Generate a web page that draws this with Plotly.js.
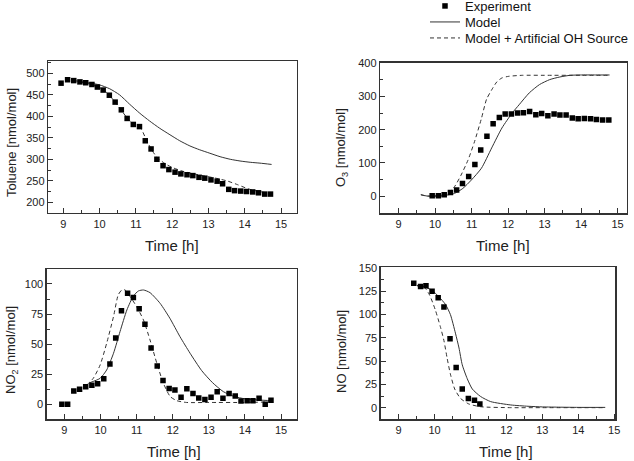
<!DOCTYPE html>
<html>
<head>
<meta charset="utf-8">
<script src="https://cdn.plot.ly/plotly-3.0.1.min.js"></script>
<style>html,body{margin:0;padding:0;background:#fff}#chart{width:634px;height:461px}</style>
</head>
<body>
<div id="chart"></div>
<script>
// ---- Toluene ----
var tolExpT = [8.94, 9.12, 9.29, 9.46, 9.62, 9.79, 9.94, 10.10, 10.27, 10.43, 10.60, 10.76, 10.93, 11.10, 11.26, 11.42, 11.58, 11.75, 11.91, 12.08, 12.24, 12.41, 12.57, 12.74, 12.90, 13.07, 13.24, 13.39, 13.56, 13.72, 13.89, 14.05, 14.22, 14.38, 14.55, 14.71];
var tolExp = [477, 485, 483, 480, 478, 474, 468, 461, 449, 433, 415, 395, 381, 376, 343, 324, 300, 285, 276, 270, 266, 264, 262, 258, 256, 252, 249, 243, 230, 227, 226, 225, 224, 222, 219, 219];
var tolModelT = [9.30, 9.45, 9.70, 10.00, 10.28, 10.55, 10.83, 11.11, 11.38, 11.66, 11.94, 12.21, 12.49, 12.76, 13.04, 13.32, 13.60, 13.87, 14.15, 14.42, 14.74];
var tolModel = [483, 481, 478, 473, 464, 450, 428, 407, 389, 372, 357, 343, 331, 322, 314, 306, 300, 296, 293, 291, 288];
var tolOHT = [9.45, 9.80, 10.00, 10.20, 10.40, 10.60, 10.80, 11.00, 11.15, 11.30, 11.45, 11.60, 11.80, 12.00, 12.30, 12.60, 12.90, 13.20, 13.50, 13.80, 14.10, 14.40, 14.75];
var tolOH = [480, 474, 467, 455, 436, 414, 392, 379, 370, 343, 320, 303, 290, 281, 272, 266, 261, 256, 250, 241, 231, 225, 220];

// ---- O3 ----
var o3ExpT = [9.92, 10.09, 10.25, 10.42, 10.59, 10.75, 10.92, 11.09, 11.25, 11.42, 11.59, 11.76, 11.92, 12.09, 12.26, 12.42, 12.59, 12.76, 12.92, 13.09, 13.26, 13.42, 13.59, 13.76, 13.92, 14.09, 14.26, 14.42, 14.59, 14.76];
var o3Exp = [1, 1, 4, 11, 18, 38, 59, 95, 139, 180, 218, 237, 247, 247, 250, 251, 255, 245, 249, 242, 247, 244, 244, 235, 233, 234, 233, 231, 229, 229];
var o3ModelT = [9.61, 9.78, 10.15, 10.53, 10.76, 10.99, 11.27, 11.55, 11.83, 12.11, 12.30, 12.58, 12.86, 13.14, 13.42, 13.70, 13.98, 14.40, 14.78];
var o3Model = [4, 0, 0, 8, 23, 48, 84, 145, 205, 250, 275, 311, 336, 351, 359, 364, 365, 365, 365];
var o3OHT = [9.61, 9.78, 10.15, 10.34, 10.53, 10.71, 10.90, 11.08, 11.27, 11.41, 11.55, 11.69, 11.83, 12.02, 12.39, 13.00, 14.00, 14.78];
var o3OH = [4, 0, 2, 8, 28, 63, 108, 164, 234, 292, 320, 344, 356, 361, 364, 364, 364, 364];

// ---- NO2 ----
var no2ExpT = [8.93, 9.09, 9.26, 9.42, 9.59, 9.76, 9.92, 10.09, 10.26, 10.42, 10.58, 10.75, 10.91, 11.07, 11.23, 11.40, 11.57, 11.73, 11.90, 12.06, 12.23, 12.39, 12.56, 12.72, 12.89, 13.06, 13.23, 13.39, 13.56, 13.73, 13.89, 14.06, 14.22, 14.39, 14.56, 14.72];
var no2Exp = [0, 0, 11, 12.5, 14.5, 15.8, 17, 21.3, 33.5, 55, 77.7, 92.3, 88.8, 79.5, 66.6, 46.8, 31.9, 19.8, 13.2, 11.9, 5.8, 13, 9, 5.3, 3.9, 5.8, 10.5, 5, 8.9, 6.9, 2.8, 3, 3, 5, 0, 3.3];
var no2ModelT = [9.71, 9.99, 10.17, 10.36, 10.54, 10.73, 10.91, 11.05, 11.19, 11.37, 11.65, 11.92, 12.20, 12.48, 12.80, 13.10, 13.40, 13.70, 14.00, 14.40, 14.75];
var no2Model = [18, 21.6, 28.5, 42.4, 60.4, 78.4, 90, 94.2, 95, 92.8, 83.9, 71.5, 56.2, 42.4, 28, 18, 10.5, 6.5, 4.5, 3.5, 3];
var no2OHT = [9.62, 9.80, 9.99, 10.17, 10.36, 10.49, 10.59, 10.68, 10.82, 11.00, 11.19, 11.37, 11.56, 11.74, 11.93, 12.11, 12.38, 13.00, 14.00, 14.75];
var no2OH = [16, 21.6, 32.7, 50.7, 72.9, 90.9, 95, 95, 89.5, 81.2, 70, 53.5, 34, 17.5, 6.4, 3, 1.5, 1.5, 1.5, 2];

// ---- NO ----
var noExpT = [9.42, 9.61, 9.76, 9.93, 10.10, 10.26, 10.43, 10.60, 10.77, 10.94, 11.11, 11.26];
var noExp = [133.5, 130, 131, 125, 118, 108, 74, 43, 20, 9.7, 7.9, 4];
var noModelT = [9.51, 9.70, 9.93, 10.12, 10.30, 10.44, 10.58, 10.68, 10.77, 10.91, 11.05, 11.28, 11.56, 12.12, 12.60, 13.00, 13.50, 14.00, 14.75];
var noModel = [131, 130, 126, 119, 111, 100, 80, 64, 46, 31, 20, 12, 6.5, 2.9, 1.5, 0.8, 0.5, 0.3, 0.3];
var noOHT = [9.51, 9.70, 9.86, 10.02, 10.16, 10.26, 10.35, 10.44, 10.56, 10.72, 10.95, 11.28, 12.12, 13.00, 14.75];
var noOH = [131, 130, 121, 105, 87, 72, 53, 36, 20, 10, 4, 1, 0, 0, 0];

var seriesNames = ['Experiment', 'Model', 'Model + Artificial OH Source'];
var xTickVals = [9, 10, 11, 12, 13, 14, 15];
var xTitle = 'Time [h]';
var yTitles = ['Toluene [nmol/mol]', 'O<sub>3</sub> [nmol/mol]', 'NO<sub>2</sub> [nmol/mol]', 'NO [nmol/mol]'];

var FONT = 'Liberation Sans, Arial, sans-serif';
var panels = [
  {et: tolExpT, e: tolExp, mt: tolModelT, m: tolModel, ot: tolOHT, o: tolOH},
  {et: o3ExpT, e: o3Exp, mt: o3ModelT, m: o3Model, ot: o3OHT, o: o3OH},
  {et: no2ExpT, e: no2Exp, mt: no2ModelT, m: no2Model, ot: no2OHT, o: no2OH},
  {et: noExpT, e: noExp, mt: noModelT, m: noModel, ot: noOHT, o: noOH}
];

var traces = [];
panels.forEach(function (p, i) {
  var xa = i === 0 ? 'x' : 'x' + (i + 1);
  var ya = i === 0 ? 'y' : 'y' + (i + 1);
  var show = i === 0;
  traces.push({x: p.mt, y: p.m, xaxis: xa, yaxis: ya, mode: 'lines', name: seriesNames[1],
    line: {color: '#333', width: 1, shape: 'spline', smoothing: 0.6}, showlegend: show, legend: 'legend2'});
  traces.push({x: p.ot, y: p.o, xaxis: xa, yaxis: ya, mode: 'lines', name: seriesNames[2],
    line: {color: '#333', width: 1, dash: '4px,3px', shape: 'spline', smoothing: 0.6}, showlegend: show, legend: 'legend3'});
  traces.push({x: p.et, y: p.e, xaxis: xa, yaxis: ya, mode: 'markers', name: seriesNames[0],
    marker: {symbol: 'square', size: 5.5, color: '#000'}, showlegend: show, legend: 'legend'});
});

function W(px) { return px / 634; }
function H(py) { return 1 - py / 461; }

function xAxis(dom, range, anchor) {
  return {domain: dom, range: range, anchor: anchor, tickvals: xTickVals, ticks: 'inside', ticklen: 5,
    tickwidth: 1, tickcolor: '#333', showline: true, linecolor: '#333', linewidth: 1.3, mirror: true,
    showgrid: false, zeroline: false, tickfont: {family: FONT, size: 11, color: '#222'},
    minor: {dtick: 0.5, tick0: 9, ticks: 'inside', ticklen: 3, tickcolor: '#333', showgrid: false}};
}
function yAxis(dom, range, anchor, dtick) {
  return {domain: dom, range: range, anchor: anchor, dtick: dtick, tick0: 0, ticks: 'inside', ticklen: 5,
    tickwidth: 1, tickcolor: '#333', showline: true, linecolor: '#333', linewidth: 1.3, mirror: true,
    showgrid: false, zeroline: false, tickfont: {family: FONT, size: 11, color: '#222'},
    minor: {dtick: dtick / 2, ticks: 'inside', ticklen: 3, tickcolor: '#333', showgrid: false}};
}

var anns = [];
function ann(text, px, py, angle, size) {
  anns.push({text: text, xref: 'paper', yref: 'paper', x: W(px), y: H(py), xanchor: 'center', yanchor: 'middle',
    showarrow: false, textangle: angle, font: {family: FONT, size: size, color: '#222'}});
}
ann(xTitle, 172.5, 245, 0, 15);
ann(xTitle, 503, 245, 0, 15);
ann(xTitle, 174, 451, 0, 15);
ann(xTitle, 506, 451, 0, 15);
ann(yTitles[0], 11, 143, -90, 13);
ann(yTitles[1], 341, 148, -90, 13);
ann(yTitles[2], 11, 350, -90, 13);
ann(yTitles[3], 341, 352, -90, 13);

function legendAt(topPx) {
  return {x: W(425), y: H(topPx), xanchor: 'left', yanchor: 'top', bgcolor: 'rgba(0,0,0,0)',
    font: {family: FONT, size: 13, color: '#111'}, tracegroupgap: 0};
}

var layout = {
  width: 634, height: 461,
  margin: {l: 0, r: 0, t: 0, b: 0, autoexpand: false},
  paper_bgcolor: '#fff', plot_bgcolor: '#fff',
  font: {family: FONT, color: '#222'},
  showlegend: true,
  legend: legendAt(-9),
  legend2: legendAt(7),
  legend3: legendAt(23),
  xaxis: xAxis([W(48), W(297)], [8.58, 15.44], 'y'),
  yaxis: yAxis([H(213), H(61)], [175, 528.6], 'x', 50),
  xaxis2: xAxis([W(380), W(626.7)], [8.49, 15.25], 'y2'),
  yaxis2: yAxis([H(213.3), H(62.7)], [-52, 402], 'x2', 100),
  xaxis3: xAxis([W(46.7), W(297)], [8.51, 15.44], 'y3'),
  yaxis3: yAxis([H(419.3), H(269.3)], [-12.5, 112.2], 'x3', 25),
  xaxis4: xAxis([W(380.7), W(615.3)], [8.5, 15.03], 'y4'),
  yaxis4: yAxis([H(419.3), H(267.3)], [-12.5, 150.7], 'x4', 25),
  annotations: anns
};

Plotly.newPlot('chart', traces, layout, {displayModeBar: false, staticPlot: true});
</script>
</body>
</html>
